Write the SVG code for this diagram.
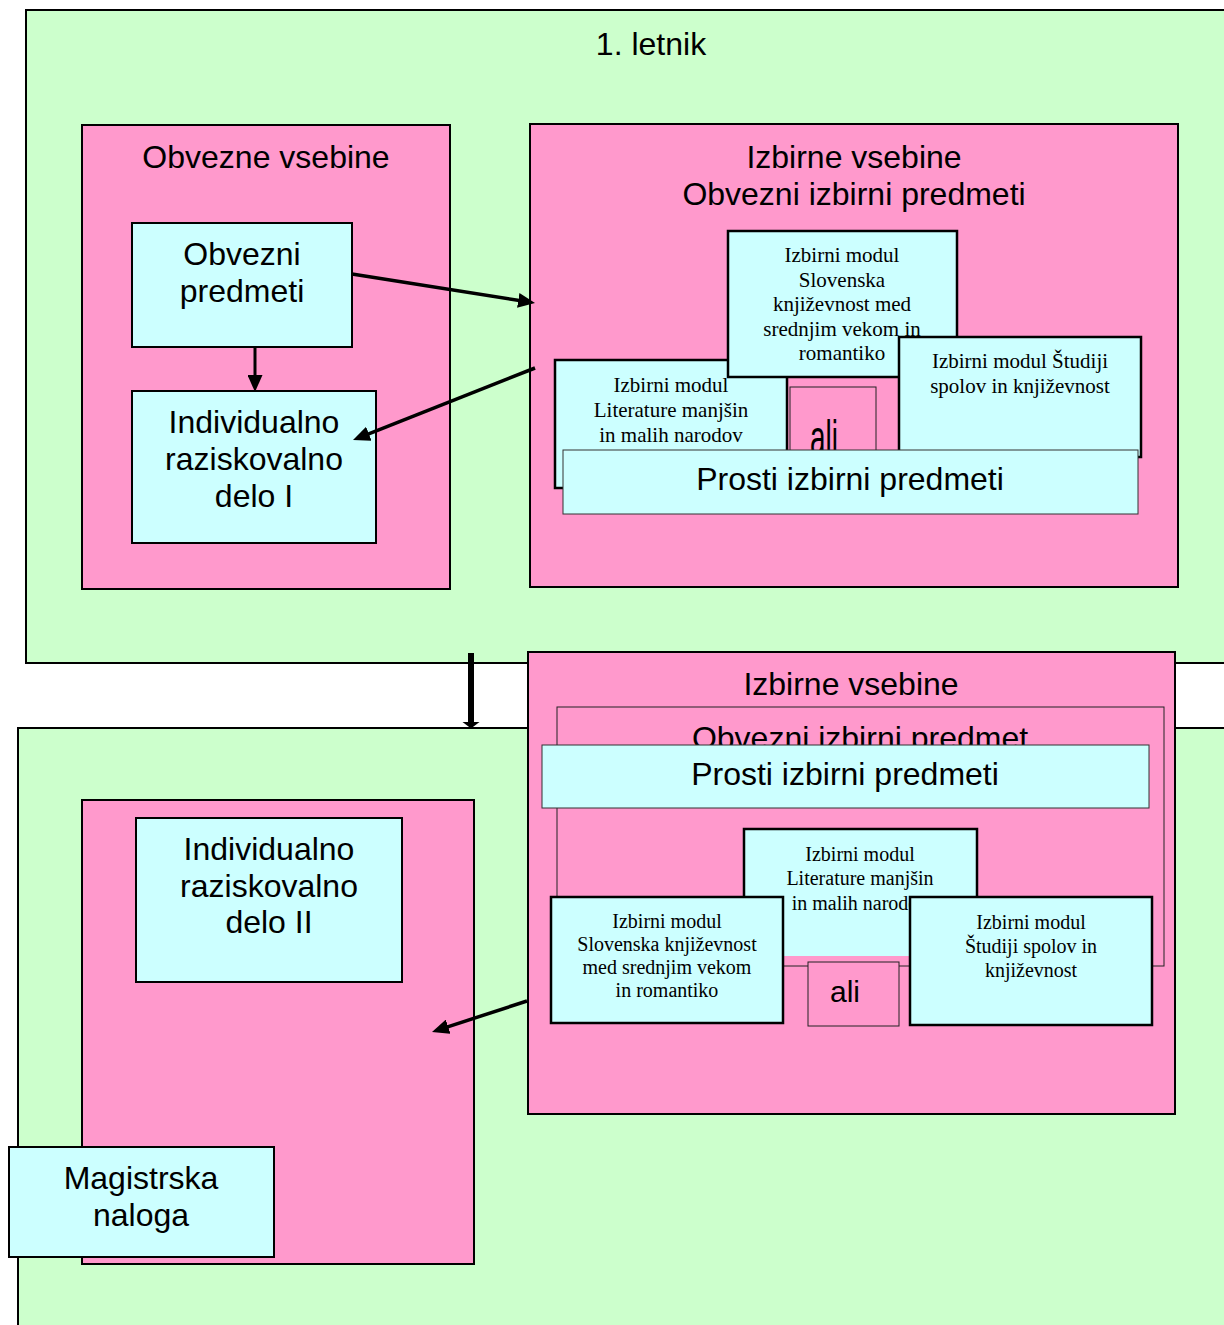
<svg xmlns="http://www.w3.org/2000/svg" width="1224" height="1325" viewBox="0 0 1224 1325">
<defs>
<style>
.green{fill:#CCFFCC;stroke:#000;stroke-width:2}
.pink{fill:#FF99CC;stroke:#000;stroke-width:2}
.thin{fill:#FF99CC;stroke:#222;stroke-width:1}
.cyan{fill:#CCFFFF;stroke:#000;stroke-width:2}
.mod{fill:#CCFFFF;stroke:#000;stroke-width:2.5}
.prosti{fill:#CCFFFF;stroke:#333;stroke-width:1}
.t{font-family:"Liberation Sans",Arial,sans-serif;font-size:32px;text-anchor:middle;fill:#000}
.s{font-family:"Liberation Serif","Times New Roman",serif;font-size:21px;text-anchor:middle;fill:#000}
.s2{font-family:"Liberation Serif","Times New Roman",serif;font-size:20px;text-anchor:middle;fill:#000}
.arr{stroke:#000;stroke-width:3.5;fill:none}
</style>
<marker id="ah" markerWidth="17" markerHeight="15" refX="11" refY="7.5" orient="auto" markerUnits="userSpaceOnUse">
<path d="M0,0 L17,7.5 L0,15 z" fill="#000"/>
</marker>
</defs>

<g id="letnik1">
<rect class="green" x="26" y="10" width="1210" height="653"/>
<text class="t" x="651" y="55">1. letnik</text>
</g>

<g id="letnik2">
<rect class="green" x="18" y="728" width="1220" height="610"/>
</g>

<g id="obvezne-vsebine">
<rect class="pink" x="82" y="125" width="368" height="464"/>
<text class="t" x="266" y="168">Obvezne vsebine</text>
</g>

<g id="obvezni-predmeti">
<rect class="cyan" x="132" y="223" width="220" height="124"/>
<text class="t" x="242" y="265">Obvezni</text>
<text class="t" x="242" y="302">predmeti</text>
</g>

<g id="ird1">
<rect class="cyan" x="132" y="391" width="244" height="152"/>
<text class="t" x="254" y="433">Individualno</text>
<text class="t" x="254" y="470">raziskovalno</text>
<text class="t" x="254" y="507">delo I</text>
</g>

<g id="izbirne1">
<rect class="pink" x="530" y="124" width="648" height="463"/>
<text class="t" x="854" y="168">Izbirne vsebine</text>
<text class="t" x="854" y="205">Obvezni izbirni predmeti</text>
</g>

<g id="lit1">
<rect class="mod" x="555" y="360" width="232" height="128"/>
<text class="s" x="671" y="392">Izbirni modul</text>
<text class="s" x="671" y="417">Literature manjšin</text>
<text class="s" x="671" y="442">in malih narodov</text>
</g>

<g id="slo1">
<rect class="mod" x="728" y="231" width="229" height="146"/>
<text class="s" x="842" y="262">Izbirni modul</text>
<text class="s" x="842" y="287">Slovenska</text>
<text class="s" x="842" y="311">književnost med</text>
<text class="s" x="842" y="336">srednjim vekom in</text>
<text class="s" x="842" y="360">romantiko</text>
</g>

<g id="ali1">
<rect class="thin" x="790" y="387" width="86" height="70"/>
<text class="t" transform="translate(824,455) scale(0.56,1)" style="font-size:50px">ali</text>
</g>

<g id="stu1">
<rect class="mod" x="899" y="337" width="242" height="120"/>
<text class="s" x="1020" y="368">Izbirni modul Študiji</text>
<text class="s" x="1020" y="393">spolov in književnost</text>
</g>

<g id="prosti1">
<rect class="prosti" x="563" y="450" width="575" height="64"/>
<text class="t" x="850" y="490">Prosti izbirni predmeti</text>
</g>

<g id="obvezne2">
<rect class="pink" x="82" y="800" width="392" height="464"/>
</g>

<g id="ird2">
<rect class="cyan" x="136" y="818" width="266" height="164"/>
<text class="t" x="269" y="860">Individualno</text>
<text class="t" x="269" y="897">raziskovalno</text>
<text class="t" x="269" y="933">delo II</text>
</g>

<g id="magistrska">
<rect class="cyan" x="9" y="1147" width="265" height="110"/>
<text class="t" x="141" y="1189">Magistrska</text>
<text class="t" x="141" y="1226">naloga</text>
</g>

<g id="izbirne2">
<rect class="pink" x="528" y="652" width="647" height="462"/>
<text class="t" x="851" y="695">Izbirne vsebine</text>
</g>

<g id="obvezni-izbirni2">
<rect class="thin" x="557" y="707" width="607" height="259"/>
<text class="t" x="860" y="749">Obvezni izbirni predmet</text>
</g>

<g id="prosti2">
<rect class="prosti" x="542" y="745" width="607" height="63"/>
<text class="t" x="845" y="785">Prosti izbirni predmeti</text>
</g>

<g id="lit2">
<rect x="744" y="829" width="233" height="127" fill="#CCFFFF"/>
<path d="M744,956 V829 H977 V956" fill="none" stroke="#000" stroke-width="2.5"/>
<text class="s2" x="860" y="861">Izbirni modul</text>
<text class="s2" x="860" y="885">Literature manjšin</text>
<text class="s2" x="860" y="910">in malih narodov</text>
</g>

<g id="slo2">
<rect class="mod" x="551" y="897" width="232" height="126"/>
<text class="s2" x="667" y="928">Izbirni modul</text>
<text class="s2" x="667" y="951">Slovenska književnost</text>
<text class="s2" x="667" y="974">med srednjim vekom</text>
<text class="s2" x="667" y="997">in romantiko</text>
</g>

<g id="ali2">
<rect class="thin" x="808" y="962" width="91" height="64"/>
<text class="t" x="845" y="1002" style="font-size:30px">ali</text>
</g>

<g id="stu2">
<rect class="mod" x="910" y="897" width="242" height="128"/>
<text class="s2" x="1031" y="929">Izbirni modul</text>
<text class="s2" x="1031" y="953">Študiji spolov in</text>
<text class="s2" x="1031" y="977">književnost</text>
</g>

<g id="connectors">
<line class="arr" x1="352" y1="274" x2="529.1" y2="302.1" marker-end="url(#ah)"/>
<line class="arr" x1="255" y1="347" x2="255" y2="386" style="stroke-width:3" marker-end="url(#ah)"/>
<line class="arr" x1="535" y1="368" x2="358.6" y2="437.8" marker-end="url(#ah)"/>
<line class="arr" x1="527" y1="1001" x2="437.7" y2="1030.1" marker-end="url(#ah)"/>
<line x1="471" y1="653" x2="471" y2="723" stroke="#000" stroke-width="6"/>
<polygon points="462.5,722 479.5,722 471,728.5" fill="#000"/>
</g>
</svg>
